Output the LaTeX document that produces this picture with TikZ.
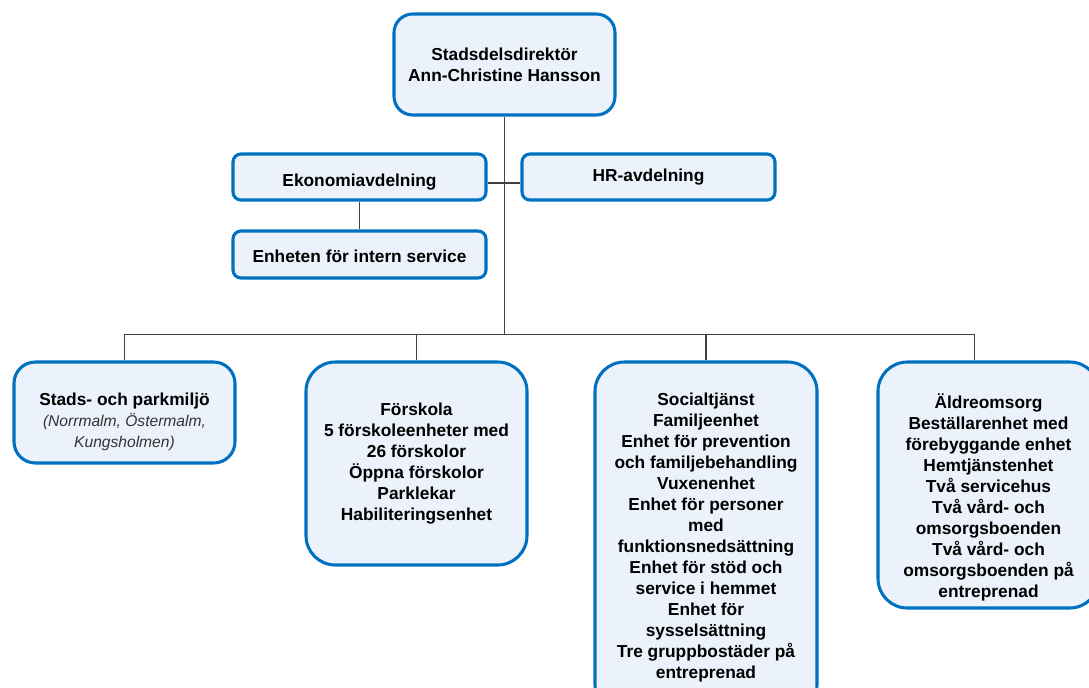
\documentclass[tikz,border=0pt]{standalone}
\usepackage{fontspec}
\setmainfont{Liberation Sans}
\definecolor{orgblue}{RGB}{0,112,192}
\definecolor{orgfill}{RGB}{235,242,251}
\definecolor{orgline}{RGB}{64,64,64}
\newcommand{\areanote}[1]{{\mdseries\itshape\fontsize{11.7}{15.75}\selectfont\color{black!80}#1}}
\begin{document}
\begin{tikzpicture}[x=0.75pt,y=-0.75pt,
    unittext/.style={align=center,inner sep=0pt,font=\bfseries\fontsize{13}{15.75}\selectfont},
    unit/.style={unittext,draw=orgblue,line width=2.3pt,fill=orgfill,rounded corners=#1},
    unit/.default=6pt,
    link/.style={draw=orgline,line width=1pt}]
    \useasboundingbox (0,0) rectangle (1089,687);
    \node[unit=14pt,minimum width=165.75pt,minimum height=75.75pt] (dir) at (504.5,64.5)
        {Stadsdelsdirektör\\Ann-Christine Hansson};
    \node[unit,minimum width=189.75pt,minimum height=34.5pt] (eko) at (359.5,177) {};
    \node[unittext] (ekotext) at ([yshift=-3.5pt]eko.center) {Ekonomiavdelning};
    \node[unit,minimum width=189.75pt,minimum height=34.5pt] (hr) at (648.5,177) {HR-avdelning};
    \node[unit,minimum width=189.75pt,minimum height=35.25pt] (intern) at (359.5,254.5) {};
    \node[unittext] (interntext) at ([yshift=-1.5pt]intern.center) {Enheten för intern service};
    \coordinate (bus) at (504.5,334.5);
    % stadsdelens verksamheter
    \node[unit=16pt,minimum width=165.75pt,minimum height=75.75pt] (stads) at (124.5,412.5) {};
    \node[unittext] (stadstext) at ([yshift=-7pt]stads.center)
        {Stads- och parkmiljö\\\areanote{(Norrmalm, Östermalm,}\\\areanote{Kungsholmen)}};
    \node[unit=22pt,minimum width=165.75pt,minimum height=152.25pt] (forskola) at (416.5,463.5)
        {Förskola\\5 förskoleenheter med\\26 förskolor\\Öppna förskolor\\Parklekar\\Habiliteringsenhet};
    \node[unit=22pt,minimum width=166.5pt,minimum height=264pt] (social) at (706,538)
        {Socialtjänst\\Familjeenhet\\Enhet för prevention\\och familjebehandling\\Vuxenenhet\\Enhet för personer\\med\\funktionsnedsättning\\Enhet för stöd och\\service i hemmet\\Enhet för\\sysselsättning\\Tre gruppbostäder på\\entreprenad};
    \node[unit=22pt,minimum width=165.75pt,minimum height=184.5pt] (aldre) at (988.5,485) {};
    \node[unittext] (aldretext) at ([yshift=-9pt]aldre.center)
        {Äldreomsorg\\Beställarenhet med\\förebyggande enhet\\Hemtjänstenhet\\Två servicehus\\Två vård- och\\omsorgsboenden\\Två vård- och\\omsorgsboenden på\\entreprenad};
    \draw[link] (dir.south) -- (bus);
    \draw[link] ([yshift=-4.5pt]eko.east) -- ([yshift=-4.5pt]hr.west);
    \draw[link] (eko.south) -- (intern.north);
    \draw[link] (stads.north) |- (bus);
    \draw[link] (forskola.north) |- (bus);
    \draw[link] (social.north) |- (bus);
    \draw[link] ([xshift=-10.5pt]aldre.north) |- (bus);
\end{tikzpicture}
\end{document}
